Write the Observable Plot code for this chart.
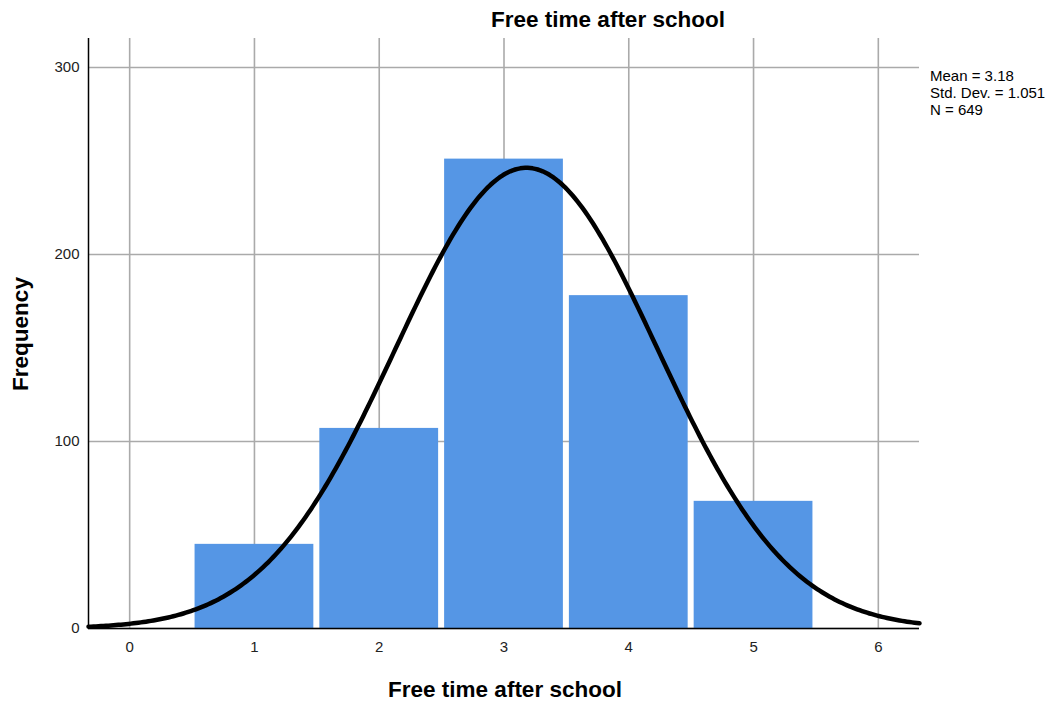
<!DOCTYPE html>
<html>
<head>
<meta charset="utf-8">
<script src="https://cdn.jsdelivr.net/npm/d3@7"></script>
<script src="https://cdn.jsdelivr.net/npm/@observablehq/plot@0.6"></script>
<style>
  body { margin: 0; background: #fff; }
  svg { font-family: "Liberation Sans", Arial, sans-serif; }
</style>
</head>
<body>
<div id="chart"></div>
<script>
// Data
const categories = [1, 2, 3, 4, 5];
const frequencies = [45, 107, 251, 178, 68];
const xTicks = [0, 1, 2, 3, 4, 5, 6];
const yTicks = [0, 100, 200, 300];
const stats = { mean: 3.18, sd: 1.051, n: 649 };
const statLabels = ["Mean = 3.18", "Std. Dev. = 1.051", "N = 649"];

const bars = categories.map((c, i) => ({ x1: c - 0.5, x2: c + 0.5, y: frequencies[i] }));

// Fitted normal curve from the stated mean / sd / N (bin width 1)
const xDomain = [-0.33, 6.33];
const curve = d3.range(xDomain[0], xDomain[1] + 0.0001, 0.02).map(x => ({
  x,
  y: stats.n / (stats.sd * Math.sqrt(2 * Math.PI)) * Math.exp(-0.5 * ((x - stats.mean) / stats.sd) ** 2)
}));

const W = 1057, H = 703;
const chart = Plot.plot({
  width: W,
  height: H,
  marginLeft: 88,
  marginRight: 138,
  marginTop: 38,
  marginBottom: 75,
  style: { fontFamily: "'Liberation Sans', Arial, sans-serif", fontSize: "15px", color: "#222" },
  x: { domain: xDomain, ticks: xTicks, label: null },
  y: { domain: [0, 315.5], ticks: yTicks, label: null },
  marks: [
    Plot.gridX(xTicks, { stroke: "#aaa", strokeOpacity: 1, strokeWidth: 1.6 }),
    Plot.gridY(yTicks, { stroke: "#aaa", strokeOpacity: 1, strokeWidth: 1.6 }),
    Plot.rectY(bars, { x1: "x1", x2: "x2", y: "y", fill: "#5596e5", insetLeft: 3, insetRight: 3 }),
    Plot.axisX(xTicks, { tickSize: 0, tickPadding: 13, fontSize: 15, fill: "#222", tickFormat: d3.format("d") }),
    Plot.axisY(yTicks, { tickSize: 0, tickPadding: 9, fontSize: 15, fill: "#222", tickFormat: d3.format("d") }),
    Plot.ruleX([xDomain[0]], { stroke: "#000", strokeWidth: 1.5 }),
    Plot.ruleY([0], { stroke: "#000", strokeWidth: 1.5 }),
    Plot.line(curve, { x: "x", y: "y", stroke: "#000", strokeWidth: 4.5, curve: "linear" })
  ]
});

const svg = d3.select(chart);
svg.append("text")
  .attr("x", 608).attr("y", 27)
  .attr("text-anchor", "middle")
  .attr("font-size", 22.5).attr("font-weight", "bold").attr("fill", "#000")
  .text("Free time after school");
svg.append("text")
  .attr("x", 505).attr("y", 697)
  .attr("text-anchor", "middle")
  .attr("font-size", 22.5).attr("font-weight", "bold").attr("fill", "#000")
  .text("Free time after school");
svg.append("text")
  .attr("transform", "translate(28,334) rotate(-90)")
  .attr("text-anchor", "middle")
  .attr("font-size", 22.5).attr("font-weight", "bold").attr("fill", "#000")
  .text("Frequency");
const leg = svg.append("text")
  .attr("x", 930).attr("y", 81)
  .attr("text-anchor", "start")
  .attr("font-size", 15).attr("fill", "#000");
statLabels.forEach((t, i) => {
  leg.append("tspan").attr("x", 930).attr("dy", i === 0 ? 0 : 17).text(t);
});

document.getElementById("chart").appendChild(chart);
</script>
</body>
</html>
